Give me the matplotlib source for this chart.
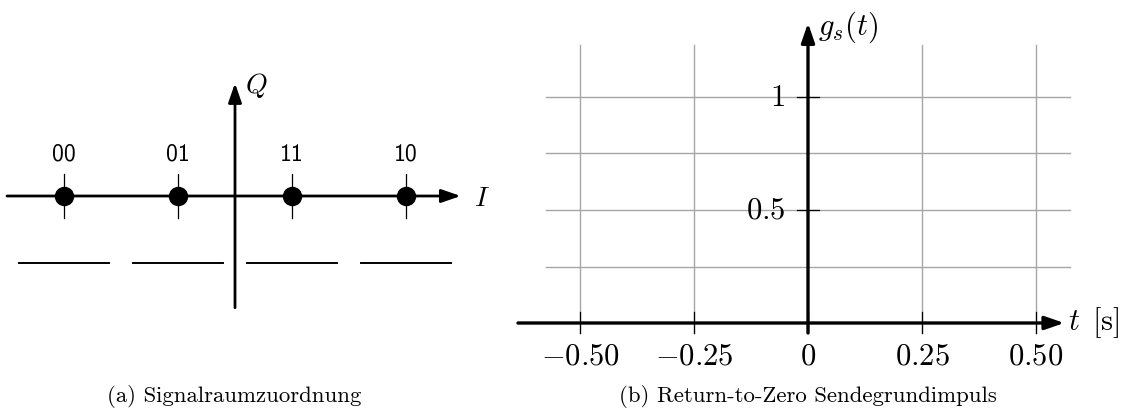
import matplotlib
matplotlib.use("Agg")
import matplotlib.pyplot as plt

plt.rcParams['mathtext.fontset'] = 'cm'

# ---- data: panel (a) ----
symbol_I = [-3, -1, 1, 3]
symbol_bits = ['00', '01', '11', '10']
region_halfwidth = 0.79

# ---- data: panel (b) ----
t_ticks = [-0.5, -0.25, 0, 0.25, 0.5]
t_ticklabels = [r'$-0.50$', r'$-0.25$', r'$0$', r'$0.25$', r'$0.50$']
g_ticks = [0.5, 1]
g_ticklabels = [r'$0.5$', r'$1$']
g_grid = [0.25, 0.5, 0.75, 1.0]

W, H = 1121, 412
fig = plt.figure(figsize=(W / 100, H / 100), dpi=100)

def px_axes(x0, x1, y0, y1):
    return fig.add_axes([x0 / W, 1 - y1 / H, (x1 - x0) / W, (y1 - y0) / H])

arrow_kw = dict(arrowstyle='-|>,head_length=0.58,head_width=0.2', mutation_scale=20,
                shrinkA=0, shrinkB=0, color='black')

# ---------- panel (a) ----------
axa = px_axes(0, 500, 0, 370)
sa = 57.0
axa.set_xlim((0 - 235) / sa, (500 - 235) / sa)
axa.set_ylim((196 - 370) / sa, (196 - 0) / sa)
axa.axis('off')

aw = 2.0
axa.annotate('', xy=(3.96, 0), xytext=(-4.0, 0),
             arrowprops=dict(arrow_kw, lw=aw))
axa.annotate('', xy=(0, 1.98), xytext=(0, -1.96),
             arrowprops=dict(arrow_kw, lw=aw))
axa.text(0.18, 1.93, r'$Q$', fontsize=20, ha='left', va='center')
axa.text(4.2, -0.03, r'$I$', fontsize=20, ha='left', va='center')

for xi, b in zip(symbol_I, symbol_bits):
    axa.plot([xi, xi], [-0.39, 0.39], color='black', lw=0.9, zorder=3)
    axa.plot([xi], [0], 'o', color='black', ms=13, zorder=4)
    axa.text(xi, 0.72, b, family='cmss10', fontsize=17, ha='center', va='center')
    axa.plot([xi - region_halfwidth, xi + region_halfwidth], [-1.18, -1.18],
             color='black', lw=1.4)

# ---------- panel (b) ----------
axb = px_axes(500, 1121, 0, 370)
sx, sy = 456.0, 226.0
axb.set_xlim((500 - 808) / sx, (1121 - 808) / sx)
axb.set_ylim((323 - 370) / sy, (323 - 0) / sy)
axb.axis('off')

grid_c = '#a6a6a6'
g_top = 1.23
t_edge = 0.575
for t in t_ticks:
    if t != 0:
        axb.plot([t, t], [-0.046, g_top], color=grid_c, lw=1.0, zorder=1)
for g in g_grid:
    axb.plot([-t_edge, t_edge], [g, g], color=grid_c, lw=1.0, zorder=1)

bw = 2.4
axb.annotate('', xy=(0.562, 0), xytext=(-0.636, 0),
             arrowprops=dict(arrow_kw, lw=bw), zorder=3)
axb.annotate('', xy=(0, 1.327), xytext=(0, -0.044),
             arrowprops=dict(arrow_kw, lw=bw), zorder=3)

for t, lab in zip(t_ticks, t_ticklabels):
    axb.plot([t, t], [-0.046, 0.049], color='black', lw=0.9, zorder=2)
    axb.text(t, -0.145, lab, fontsize=22, ha='center', va='center')
for g, lab in zip(g_ticks, g_ticklabels):
    axb.plot([-0.024, 0.024], [g, g], color='black', lw=0.9, zorder=2)
    axb.text(-0.05, g, lab, fontsize=22, ha='right', va='center')

axb.text(0.022, 1.31, r'$g_s(t)$', fontsize=22, ha='left', va='center')
axb.text(0.571, 0.0, r'$t\ \,[\mathrm{s}]$', fontsize=22, ha='left', va='center')

# ---------- captions ----------
fig.text(234 / W, 1 - 397 / H, '(a) Signalraumzuordnung', family='cmr10',
         fontsize=16.4, ha='center', va='center')
fig.text(808 / W, 1 - 397 / H, '(b) Return-to-Zero Sendegrundimpuls', family='cmr10',
         fontsize=16.4, ha='center', va='center')

fig.savefig('out.png', dpi=100)
